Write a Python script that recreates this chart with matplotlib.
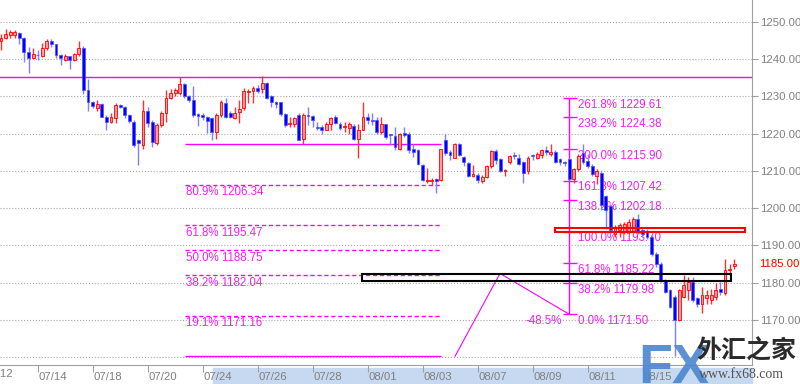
import numpy as np
import matplotlib.pyplot as plt
from matplotlib.patches import Rectangle

plt.rcParams['font.family'] = ['Liberation Sans', 'DejaVu Sans']

# 4H candles (left -> right)
opens = [
    1244.9, 1245.8, 1246.4, 1246.4, 1247.0, 1245.8, 1242.0, 1240.4, 1241.2, 1240.8,
    1242.9, 1244.9, 1244.0, 1241.2, 1239.9, 1240.8, 1239.7, 1241.3, 1243.1, 1231.7,
    1228.6, 1226.8, 1228.1, 1224.6, 1223.2, 1224.1, 1227.7, 1227.1, 1225.0, 1223.2,
    1218.3, 1216.9, 1226.0, 1223.2, 1217.4, 1222.3, 1225.5, 1229.5, 1230.9, 1230.9,
    1233.4, 1230.0, 1229.1, 1225.3, 1225.0, 1224.6, 1224.1, 1220.5, 1225.0, 1228.2,
    1225.5, 1224.1, 1225.7, 1226.8, 1231.1, 1231.6, 1232.3, 1232.0, 1233.6, 1230.0,
    1228.4, 1228.4, 1225.3, 1222.5, 1222.7, 1225.0, 1218.6, 1225.0, 1224.7, 1221.8,
    1221.8, 1221.1, 1222.5, 1224.4, 1222.7, 1221.7, 1221.4, 1222.0, 1218.6, 1221.1,
    1224.5, 1223.8, 1223.6, 1220.4, 1222.5, 1219.8, 1219.3, 1215.8, 1220.2, 1220.0,
    1215.8, 1215.6, 1211.6, 1207.2, 1207.4, 1207.8, 1207.6, 1218.2, 1215.1, 1213.6,
    1217.2, 1213.8, 1212.2, 1208.7, 1208.9, 1207.2, 1208.5, 1211.2, 1215.4, 1213.2,
    1209.9, 1212.3, 1214.1, 1213.4, 1212.3, 1210.0, 1214.3, 1213.6, 1214.3, 1215.5,
    1214.5, 1215.2, 1213.2, 1212.3, 1213.2, 1207.9, 1210.5, 1214.8, 1212.7, 1211.4,
    1208.6, 1209.5, 1203.2, 1200.5, 1193.2, 1194.1, 1193.6, 1193.6, 1194.0, 1197.1,
    1194.2, 1194.0, 1192.2, 1187.8, 1185.1, 1180.7, 1178.0, 1176.2, 1170.0, 1176.2,
    1178.0, 1180.2, 1175.8, 1174.4, 1175.8, 1175.3, 1176.2, 1178.4, 1177.1, 1183.3,
    1184.4,
]
highs = [
    1246.9, 1248.2, 1247.8, 1247.9, 1247.3, 1246.0, 1243.3, 1242.9, 1242.4, 1244.4,
    1245.5, 1245.3, 1244.2, 1241.5, 1241.5, 1240.8, 1241.7, 1244.9, 1243.5, 1234.6,
    1228.9, 1229.0, 1228.3, 1225.0, 1225.6, 1228.3, 1228.0, 1227.4, 1225.4, 1223.7,
    1218.7, 1229.1, 1227.3, 1223.7, 1222.8, 1226.0, 1231.8, 1232.0, 1232.3, 1235.2,
    1233.6, 1230.5, 1232.7, 1225.5, 1225.5, 1224.8, 1224.6, 1225.5, 1229.1, 1229.5,
    1226.0, 1227.3, 1229.1, 1232.3, 1232.0, 1232.7, 1233.2, 1235.5, 1233.8, 1230.5,
    1228.9, 1228.6, 1225.5, 1224.5, 1224.5, 1225.5, 1225.5, 1227.3, 1225.0, 1223.2,
    1222.3, 1223.2, 1224.5, 1225.0, 1223.2, 1223.2, 1223.2, 1222.7, 1222.7, 1228.6,
    1225.6, 1225.5, 1224.5, 1224.4, 1222.7, 1220.0, 1221.8, 1220.2, 1221.8, 1220.4,
    1217.3, 1216.0, 1212.0, 1210.7, 1208.1, 1208.1, 1216.0, 1220.0, 1215.6, 1217.5,
    1217.5, 1214.0, 1212.5, 1211.6, 1209.4, 1208.9, 1211.6, 1215.6, 1216.0, 1213.6,
    1210.6, 1214.3, 1215.0, 1214.5, 1212.7, 1213.9, 1214.5, 1215.0, 1215.9, 1216.8,
    1217.3, 1215.7, 1213.6, 1212.7, 1213.6, 1210.9, 1214.5, 1217.3, 1214.5, 1211.8,
    1210.5, 1210.0, 1203.6, 1200.9, 1195.5, 1195.9, 1196.2, 1197.1, 1197.6, 1198.4,
    1194.8, 1194.4, 1192.7, 1188.2, 1185.6, 1181.1, 1178.4, 1176.7, 1178.4, 1182.0,
    1181.6, 1181.6, 1176.2, 1178.9, 1178.0, 1178.4, 1179.8, 1180.2, 1186.4, 1185.1,
    1186.4,
]
lows = [
    1242.6, 1245.4, 1245.8, 1245.8, 1244.0, 1239.3, 1236.3, 1240.2, 1239.9, 1240.6,
    1242.4, 1243.3, 1240.4, 1238.4, 1239.5, 1237.5, 1239.5, 1240.9, 1230.6, 1226.2,
    1227.0, 1226.2, 1224.4, 1221.0, 1222.8, 1222.8, 1226.8, 1224.1, 1222.8, 1216.3,
    1211.5, 1215.8, 1221.9, 1216.5, 1216.9, 1221.9, 1223.2, 1229.3, 1230.2, 1230.5,
    1229.5, 1228.4, 1224.6, 1222.1, 1223.7, 1220.3, 1218.3, 1218.7, 1224.6, 1224.1,
    1224.1, 1223.9, 1222.8, 1226.4, 1228.2, 1228.2, 1230.9, 1230.9, 1229.3, 1227.1,
    1226.8, 1224.7, 1221.8, 1221.8, 1221.8, 1218.2, 1217.3, 1222.3, 1221.8, 1220.9,
    1220.0, 1220.9, 1221.1, 1222.5, 1221.1, 1220.5, 1220.0, 1218.2, 1213.6, 1220.9,
    1222.7, 1222.3, 1220.0, 1220.0, 1218.7, 1217.0, 1215.6, 1215.6, 1219.1, 1214.7,
    1213.8, 1211.6, 1207.2, 1206.7, 1206.3, 1204.1, 1207.2, 1214.2, 1212.9, 1213.4,
    1214.0, 1211.2, 1208.3, 1208.5, 1206.9, 1206.9, 1208.1, 1210.7, 1212.0, 1209.7,
    1208.6, 1211.8, 1213.2, 1211.5, 1206.8, 1209.1, 1213.0, 1213.2, 1213.6, 1214.3,
    1214.1, 1212.1, 1211.5, 1211.4, 1207.7, 1206.8, 1210.0, 1211.8, 1210.9, 1208.6,
    1206.4, 1199.5, 1194.5, 1192.3, 1192.3, 1192.3, 1193.1, 1193.1, 1193.6, 1193.1,
    1192.2, 1191.8, 1187.3, 1184.2, 1180.2, 1177.1, 1173.1, 1160.2, 1169.6, 1175.8,
    1175.3, 1174.9, 1173.6, 1171.8, 1174.4, 1174.4, 1175.3, 1176.7, 1176.7, 1182.0,
    1183.8,
]
closes = [
    1245.8, 1246.9, 1247.3, 1247.3, 1245.8, 1242.0, 1240.4, 1241.5, 1241.0, 1242.9,
    1244.9, 1244.0, 1241.1, 1240.2, 1240.8, 1239.9, 1241.3, 1243.1, 1231.7, 1228.6,
    1227.4, 1228.0, 1224.6, 1223.2, 1224.6, 1227.7, 1227.1, 1225.0, 1223.5, 1216.9,
    1217.4, 1226.0, 1222.8, 1217.8, 1222.3, 1225.5, 1229.5, 1230.9, 1231.8, 1233.4,
    1230.0, 1229.1, 1225.0, 1224.8, 1224.6, 1223.5, 1220.5, 1225.0, 1228.6, 1224.6,
    1224.6, 1225.5, 1226.6, 1231.4, 1231.6, 1232.3, 1231.6, 1233.5, 1229.5, 1228.4,
    1228.0, 1225.3, 1222.3, 1222.9, 1224.1, 1218.4, 1225.0, 1224.8, 1223.6, 1221.6,
    1221.1, 1222.5, 1224.1, 1222.9, 1221.4, 1222.0, 1222.7, 1218.6, 1220.9, 1224.4,
    1223.6, 1223.5, 1220.5, 1222.5, 1219.1, 1219.6, 1216.5, 1220.0, 1219.6, 1215.6,
    1215.1, 1212.0, 1207.6, 1207.6, 1207.6, 1207.4, 1215.8, 1214.7, 1214.2, 1217.2,
    1214.2, 1212.5, 1208.7, 1209.2, 1207.6, 1208.5, 1211.2, 1215.4, 1212.9, 1210.0,
    1210.3, 1214.1, 1213.9, 1211.8, 1209.5, 1213.4, 1213.9, 1214.5, 1215.5, 1215.0,
    1215.2, 1212.3, 1212.3, 1212.1, 1207.9, 1210.5, 1214.1, 1212.3, 1211.4, 1209.1,
    1210.0, 1200.9, 1199.5, 1194.1, 1195.0, 1195.5, 1195.8, 1196.2, 1197.1, 1193.6,
    1193.1, 1192.2, 1187.8, 1185.1, 1180.7, 1177.6, 1173.6, 1170.0, 1178.0, 1179.3,
    1180.2, 1175.3, 1174.4, 1176.7, 1176.7, 1176.7, 1178.0, 1177.6, 1183.3, 1183.8,
    1185.0,
]

date_labels = ['07/14', '07/18', '07/20', '07/24', '07/26', '07/28',
               '08/01', '08/03', '08/07', '08/09', '08/11', '08/15']
price_ticks = [1160, 1170, 1180, 1190, 1200, 1210, 1220, 1230, 1240, 1250]
last_price = 1185.00
resist_line = 1235.2

# fibonacci retracement (high 1217.22 -> low 1160.28)
retr_top, retr_bottom = 1217.22, 1160.28
retr_pct = ['80.9%', '61.8%', '50.0%', '38.2%', '19.1%']
retr_vals = [1206.34, 1195.47, 1188.75, 1182.04, 1171.16]

# fibonacci expansion (A=1160.28, B=1182.48, C=1171.50)
exp_a, exp_b, exp_c = 1160.28, 1182.48, 1171.50
exp_pct = ['261.8%', '238.2%', '200.0%', '161.8%', '138.2%',
           '100.0%', '61.8%', '38.2%', '0.0%']
exp_vals = [1229.61, 1224.38, 1215.90, 1207.42, 1202.18,
            1193.70, 1185.22, 1179.98, 1171.50]
exp_ratio = '-48.5%'

# zones
red_zone = (1193.7, 1194.6)
black_zone = (1180.55, 1182.45)

o = np.array(opens); h = np.array(highs); l = np.array(lows); c = np.array(closes)
x = np.arange(len(o))
up = c >= o

magenta = '#ff00ff'
fibtxt = '#f020f0'
gray = '#808080'

fig = plt.figure(figsize=(8, 3.84), dpi=100, facecolor='white')
ax = fig.add_axes([0, 19 / 384, 752 / 800, 365 / 384])
ax.set_xlim(-0.22, 163.9)
ax.set_ylim(1157.9, 1255.9)

# candles
ax.vlines(x[up], l[up], h[up], color='#ff3030', lw=1, zorder=3)
ax.vlines(x[~up], l[~up], h[~up], color='#7f7fff', lw=1, zorder=3)
body = np.maximum(np.abs(c - o), 0.25)
bottom = np.minimum(o, c)
ax.bar(x[up], body[up], bottom=bottom[up], width=0.62, color='#ff9a9a',
       edgecolor='#ff0000', linewidth=0.6, zorder=4)
ax.bar(x[~up], body[~up], bottom=bottom[~up], width=0.62, color='#0000ff',
       edgecolor='#5050ff', linewidth=0.5, zorder=4)

# horizontal resistance line
ax.axhline(resist_line, color=magenta, lw=1, zorder=2)

# retracement
rx0, rx1 = 40.2, 96.0
ax.hlines([retr_top, retr_bottom], rx0, rx1, color=magenta, lw=1, zorder=2)
ax.hlines(retr_vals, rx0, rx1, color=magenta, lw=1, linestyle=(0, (3, 2)), zorder=2)
for p, v in zip(retr_pct, retr_vals):
    ax.text(rx0 + 0.2, v - 0.5, f'{p} {v:.2f}', color=fibtxt, fontsize=8.3,
            ha='left', va='top', zorder=2)

# expansion: A -> B -> C path and level ticks
ax.plot([99.1, 108.9, 124.05], [exp_a, exp_b, exp_c], color=magenta, lw=0.8, zorder=2)
ax.vlines(124.05, exp_c, exp_vals[0], color=magenta, lw=1, zorder=2)
ax.hlines(exp_vals, 122.6, 125.6, color=magenta, lw=1, zorder=2)
for p, v in zip(exp_pct, exp_vals):
    ax.text(125.9, v - 0.2, f'{p} {v:.2f}', color=fibtxt, fontsize=8.3,
            ha='left', va='top', zorder=2)
ax.text(122.3, exp_c - 0.2, exp_ratio, color=fibtxt, fontsize=8.3,
        ha='right', va='top', zorder=2)

# zones
ax.add_patch(Rectangle((120.9, red_zone[0]), 162.3 - 120.9, red_zone[1] - red_zone[0],
                       fill=False, edgecolor='#ff0000', lw=1.5, zorder=5))
ax.add_patch(Rectangle((78.8, black_zone[0]), 159.3 - 78.8, black_zone[1] - black_zone[0],
                       fill=False, edgecolor='black', lw=1.5, zorder=5))

# axes styling
for s in ['left', 'top']:
    ax.spines[s].set_visible(False)
for s in ['right', 'bottom']:
    ax.spines[s].set_color('#a0a0a0')
ax.yaxis.tick_right()
ax.set_yticks(price_ticks, ['' if p == 1160 else f'{p:.2f}' for p in price_ticks])
ax.grid(axis='y', color='#a8a8a8', linestyle=':', lw=0.8, zorder=0)
ax.tick_params(axis='y', direction='out', length=4, pad=1.5, colors='#a0a0a0',
               labelcolor=gray, labelsize=8.2)

tick_pos = [(37.3 + 55 * k) / 4.583 for k in range(len(date_labels))]
ax.set_xticks(tick_pos, date_labels)
for lbl in ax.get_xticklabels():
    lbl.set_horizontalalignment('left')
ax.tick_params(axis='x', direction='out', length=5, pad=0, colors='#a0a0a0',
               labelcolor=gray, labelsize=8.2)

# last price tag
ax.annotate(f'{last_price:.2f}', xy=(1.0, last_price), xycoords=('axes fraction', 'data'),
            xytext=(5, 0), textcoords='offset points', va='center', ha='left',
            color='#ff0000', fontsize=8.2, annotation_clip=False,
            bbox=dict(boxstyle='square,pad=0.1', fc='#f2fff2', ec='none'))

# scroll bar strip and clipped first date
fig.add_artist(Rectangle((213 / 800, 0), (752 - 213) / 800, 16 / 384,
                         transform=fig.transFigure, color='#c6d9f0', zorder=0))
fig.text(-15.5 / 800, 10 / 384, '07/12', color=gray, fontsize=8.2, va='center', ha='left')

# watermark
fig.text(638 / 800, 1 / 384, 'FX', fontsize=40, fontweight='bold', color='#4a86d0',
         va='baseline', ha='left', alpha=0.9, zorder=10)
fig.text(696 / 800, (384 - 351) / 384, '外汇之家', fontsize=18, fontweight='bold',
         color='#2a2a2a', family=['Noto Sans CJK SC', 'DejaVu Sans'],
         va='center', ha='left', zorder=10)
fig.text(699 / 800, (384 - 375) / 384, 'www.fx68.com', fontsize=10, color='#555555',
         family='Liberation Serif', va='center', ha='left', zorder=10)

fig.savefig('out.png', dpi=100, facecolor='white')
